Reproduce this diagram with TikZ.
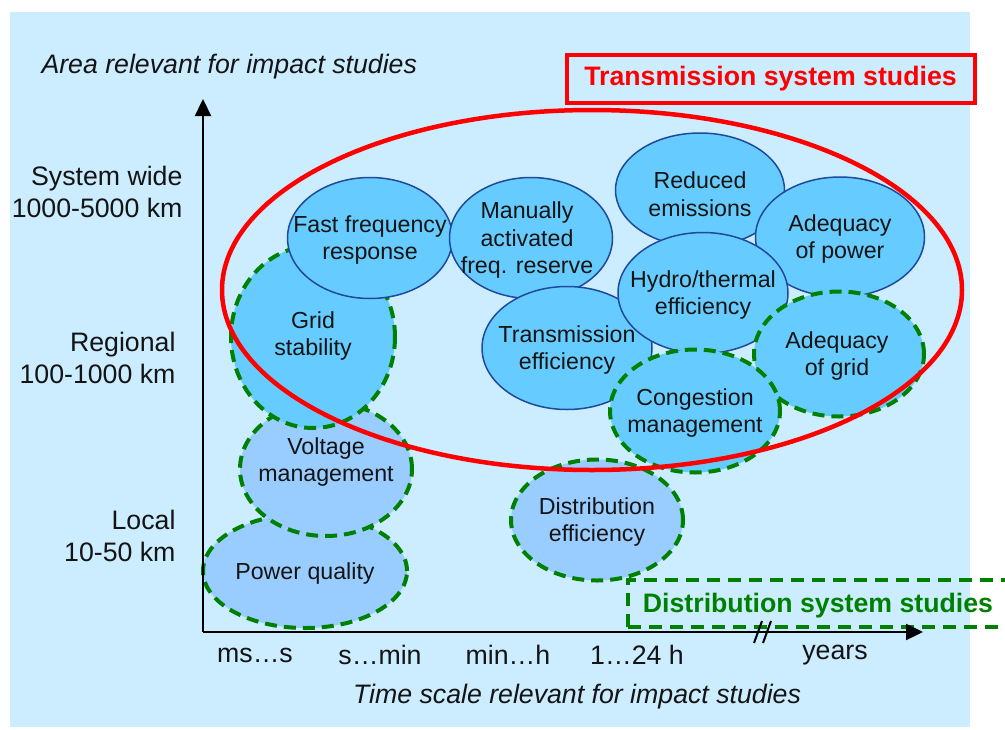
\documentclass[tikz,border=0pt]{standalone}
\usepackage{fontspec}
\setmainfont{Liberation Sans}
\usetikzlibrary{shapes.geometric,arrows.meta}
\definecolor{bgblue}{HTML}{CCECFF}
\definecolor{bright}{HTML}{66CCFF}
\definecolor{pale}{HTML}{99CCFF}
\definecolor{outl}{HTML}{1F4A9C}
\definecolor{grn}{HTML}{008000}
\definecolor{txt}{HTML}{141414}
\begin{document}
\begin{tikzpicture}[x=1pt,y=-1pt,
  bub/.style={ellipse, inner sep=0pt},
  btxt/.style={align=center, text=txt, inner sep=0pt, yshift=-2pt,
    font=\fontsize{23.2}{27.8}\selectfont},
  solidb/.style={bub, fill=bright, draw=outl, line width=1.5pt},
  dashb/.style={bub, draw=grn, line width=4pt, dash pattern=on 12pt off 7pt},
  sz/.style 2 args={minimum width=#1pt, minimum height=#2pt},
  lab/.style={font=\fontsize{26.7}{32}\selectfont, text=txt},
  axis/.style={line width=2.3pt, black, -{Triangle[length=17pt,width=16pt]}}
]
\useasboundingbox (0,0) rectangle (1005,729);
\fill[bgblue] (10,12) rectangle (970,727);

% bubbles (back to front)
\node[dashb, fill=pale, sz={204}{114}, label={[btxt]center:{Power quality}}] (pq) at (305,571) {};
\node[dashb, fill=pale, sz={172}{134}, label={[btxt,yshift=9pt]center:{Voltage\\management}}] (vm) at (326,469) {};
\node[dashb, fill=bright, sz={164}{182}, label={[btxt,yshift=3pt]center:{Grid\\stability}}] (gs) at (313,337) {};
\node[solidb, sz={165}{121}, label={[btxt]center:{Fast frequency\\response}}] (ffr) at (370,238) {};
\node[solidb, sz={163}{121}, label={[btxt,xshift=-4pt]center:{Manually\\activated\\freq. reserve}}] (mafr) at (531,238) {};
\node[solidb, sz={169}{114}, label={[btxt,yshift=-2pt]center:{Reduced\\emissions}}] (re) at (700,190) {};
\node[solidb, sz={169}{120}, label={[btxt]center:{Adequacy\\of power}}] (ap) at (840,237) {};
\node[solidb, sz={170}{123}, label={[btxt]center:{Transmission\\efficiency}}] (te) at (567,348) {};
\node[solidb, sz={170}{121}, label={[btxt]center:{Hydro/thermal\\efficiency}}] (hte) at (703,293) {};
\node[dashb, fill=bright, sz={170}{125}, label={[btxt,xshift=-2pt]center:{Adequacy\\of grid}}] (ag) at (839,354) {};
\node[dashb, fill=bright, sz={170}{123}, label={[btxt]center:{Congestion\\management}}] (cm) at (695,411) {};
\node[dashb, fill=pale, sz={172}{121}, label={[btxt]center:{Distribution\\efficiency}}] (de) at (597,520) {};

% transmission area
\node[ellipse, draw=red, line width=4.5pt, minimum width=740pt, minimum height=360pt, inner sep=0pt] (tarea) at (592,290) {};

% transmission box
\node[draw=red, line width=4pt, fill=bgblue, minimum width=408pt, minimum height=48pt, inner sep=0pt,
  text=red, font=\fontsize{26.7}{32}\selectfont\bfseries] (tbox) at (770.5,79) {\raisebox{-2.5pt}{Transmission system studies}};

% distribution box
\begin{scope}
\clip (0,0) rectangle (1005,729);
\draw[grn, line width=3.5pt, dash pattern=on 13pt off 8pt] (628,627) -- (628,580) -- (1030,580);
\draw[grn, line width=3.5pt, dash pattern=on 13pt off 8pt] (628,627) -- (1030,627);
\end{scope}
\node[text=grn, font=\fontsize{26.7}{32}\selectfont\bfseries] (dbox) at (818,606) {Distribution system studies};

% axes
\coordinate (O) at (203,632);
\coordinate (ytop) at (203,99);
\coordinate (xend) at (923,632);
\draw[axis] (O) -- (ytop);
\draw[axis] (O) -- (xend);
\coordinate (b1a) at (762,621); \coordinate (b1b) at (754,643);
\coordinate (b2a) at (771,621); \coordinate (b2b) at (763,643);
\draw[line width=2pt] (b1a) -- (b1b);
\draw[line width=2pt] (b2a) -- (b2b);

% axis labels
\node[lab, anchor=west] (ylab) at (38,67) {\itshape Area relevant for impact studies};
\node[lab] (xlab) at (577,697) {\itshape Time scale relevant for impact studies};
\node[lab, align=right, anchor=east] (sw) at (186,192) {System wide\\1000-5000 km};
\node[lab, align=right, anchor=east] (rg) at (179,358) {Regional\\100-1000 km};
\node[lab, align=right, anchor=east] (lc) at (179,536) {Local\\10-50 km};

\node[lab] (t1) at (255,655) {ms…s};
\node[lab] (t2) at (380,655) {s…min};
\node[lab] (t3) at (508,655) {min…h};
\node[lab] (t4) at (637,655) {1…24 h};
\node[lab] (t5) at (835,655) {years};
\end{tikzpicture}
\end{document}
